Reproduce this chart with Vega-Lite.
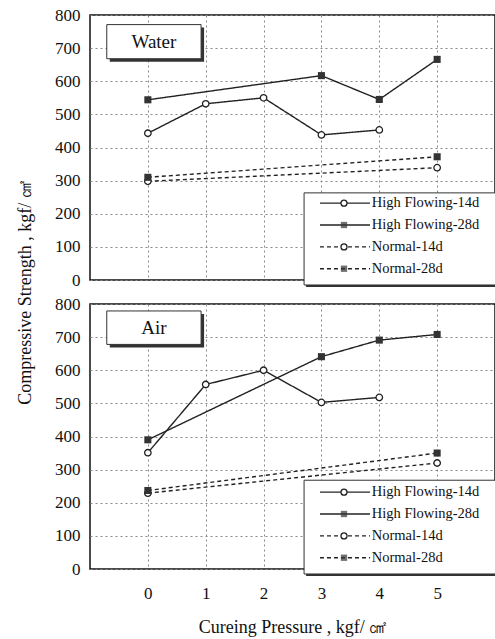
{
  "$schema": "https://vega.github.io/schema/vega-lite/v6.json",
  "background": "white",
  "padding": {"left": 15, "top": 5, "right": 0, "bottom": 0},
  "spacing": 24,
  "bounds": "flush",
  "config": {
    "font": "Liberation Serif",
    "view": {"stroke": "#111", "strokeWidth": 1.5},
    "axis": {
      "labelFont": "Liberation Serif",
      "titleFont": "Liberation Serif",
      "labelFontSize": 17,
      "titleFontSize": 18,
      "titleFontWeight": "normal",
      "labelColor": "#111",
      "titleColor": "#111",
      "grid": true,
      "gridDash": [2, 3],
      "gridColor": "#888",
      "gridWidth": 1,
      "ticks": false,
      "domain": false
    }
  },
  "datasets": {
    "pts": [
      {"panel": "Water", "series": "High Flowing-14d", "x": 0, "y": 443},
      {"panel": "Water", "series": "High Flowing-14d", "x": 1, "y": 532},
      {"panel": "Water", "series": "High Flowing-14d", "x": 2, "y": 550},
      {"panel": "Water", "series": "High Flowing-14d", "x": 3, "y": 438},
      {"panel": "Water", "series": "High Flowing-14d", "x": 4, "y": 453},
      {"panel": "Water", "series": "High Flowing-28d", "x": 0, "y": 544},
      {"panel": "Water", "series": "High Flowing-28d", "x": 3, "y": 617},
      {"panel": "Water", "series": "High Flowing-28d", "x": 4, "y": 545},
      {"panel": "Water", "series": "High Flowing-28d", "x": 5, "y": 666},
      {"panel": "Water", "series": "Normal-14d", "x": 0, "y": 298},
      {"panel": "Water", "series": "Normal-14d", "x": 5, "y": 339},
      {"panel": "Water", "series": "Normal-28d", "x": 0, "y": 310},
      {"panel": "Water", "series": "Normal-28d", "x": 5, "y": 372},
      {"panel": "Air", "series": "High Flowing-14d", "x": 0, "y": 351},
      {"panel": "Air", "series": "High Flowing-14d", "x": 1, "y": 557},
      {"panel": "Air", "series": "High Flowing-14d", "x": 2, "y": 600},
      {"panel": "Air", "series": "High Flowing-14d", "x": 3, "y": 503},
      {"panel": "Air", "series": "High Flowing-14d", "x": 4, "y": 518},
      {"panel": "Air", "series": "High Flowing-28d", "x": 0, "y": 390},
      {"panel": "Air", "series": "High Flowing-28d", "x": 3, "y": 641},
      {"panel": "Air", "series": "High Flowing-28d", "x": 4, "y": 691},
      {"panel": "Air", "series": "High Flowing-28d", "x": 5, "y": 708},
      {"panel": "Air", "series": "Normal-14d", "x": 0, "y": 229},
      {"panel": "Air", "series": "Normal-14d", "x": 5, "y": 320},
      {"panel": "Air", "series": "Normal-28d", "x": 0, "y": 237},
      {"panel": "Air", "series": "Normal-28d", "x": 5, "y": 350}
    ],
    "boxes": [
      {"panel": "Water", "x1": -0.71, "x2": 0.92, "y1": 668, "y2": 771, "tx": 0.105, "ty": 719},
      {"panel": "Air", "x1": -0.71, "x2": 0.92, "y1": 678, "y2": 779, "tx": 0.105, "ty": 728}
    ],
    "leg": [
      {"series": "High Flowing-14d", "ly": 232, "kind": "14d"},
      {"series": "High Flowing-28d", "ly": 166, "kind": "28d"},
      {"series": "Normal-14d", "ly": 100, "kind": "14d"},
      {"series": "Normal-28d", "ly": 34, "kind": "28d"}
    ]
  },
  "vconcat": [
    {
      "width": 405,
      "height": 265,
      "encoding": {
        "x": {"type": "quantitative", "scale": {"domain": [-1, 6], "nice": false}, "axis": {"values": [0, 1, 2, 3, 4, 5], "labels": false, "title": null}},
        "y": {"type": "quantitative", "scale": {"domain": [0, 800], "nice": false}, "axis": {"values": [0, 100, 200, 300, 400, 500, 600, 700, 800], "labelOverlap": false, "labelPadding": 10, "title": null}}
      },
      "layer": [
        {
          "data": {"name": "boxes"},
          "transform": [{"filter": {"field": "panel", "equal": "Water"}}],
          "mark": {"type": "rect", "fill": "#333", "xOffset": 3, "x2Offset": 3, "yOffset": 3, "y2Offset": 3},
          "encoding": {"x": {"field": "x1"}, "x2": {"field": "x2"}, "y": {"field": "y1"}, "y2": {"field": "y2"}}
        },
        {
          "data": {"name": "boxes"},
          "transform": [{"filter": {"field": "panel", "equal": "Water"}}],
          "mark": {"type": "rect", "fill": "white", "stroke": "#333", "strokeWidth": 1},
          "encoding": {"x": {"field": "x1"}, "x2": {"field": "x2"}, "y": {"field": "y1"}, "y2": {"field": "y2"}}
        },
        {
          "data": {"name": "boxes"},
          "transform": [{"filter": {"field": "panel", "equal": "Water"}}],
          "mark": {"type": "text", "font": "Liberation Serif", "fontSize": 19, "color": "#111"},
          "encoding": {"x": {"field": "tx"}, "y": {"field": "ty"}, "text": {"field": "panel"}}
        },
        {
          "data": {"name": "pts"},
          "transform": [{"filter": {"field": "panel", "equal": "Water"}}],
          "mark": {"type": "line", "color": "#222", "strokeWidth": 1.4},
          "encoding": {
            "x": {"field": "x"},
            "y": {"field": "y"},
            "strokeDash": {"field": "series", "type": "nominal", "scale": {"domain": ["High Flowing-14d", "High Flowing-28d", "Normal-14d", "Normal-28d"], "range": [[1, 0], [1, 0], [4, 3], [4, 3]]}, "legend": null},
            "order": {"field": "x"}
          }
        },
        {
          "data": {"name": "pts"},
          "transform": [{"filter": {"field": "panel", "equal": "Water"}}, {"filter": {"field": "series", "oneOf": ["High Flowing-14d", "Normal-14d"]}}],
          "mark": {"type": "point", "shape": "circle", "size": 42, "filled": false, "fill": "white", "fillOpacity": 1, "stroke": "#222", "strokeWidth": 1.3, "opacity": 1},
          "encoding": {"x": {"field": "x"}, "y": {"field": "y"}}
        },
        {
          "data": {"name": "pts"},
          "transform": [{"filter": {"field": "panel", "equal": "Water"}}, {"filter": {"field": "series", "oneOf": ["High Flowing-28d", "Normal-28d"]}}],
          "mark": {"type": "point", "shape": "square", "size": 50, "filled": true, "color": "#333", "opacity": 1},
          "encoding": {"x": {"field": "x"}, "y": {"field": "y"}}
        },
        {
          "data": {"values": [{}]},
          "mark": {"type": "rect", "fill": "#333", "yOffset": 2, "y2Offset": 2, "xOffset": 2, "x2Offset": 2},
          "encoding": {"x": {"datum": 2.7}, "x2": {"datum": 6.03}, "y": {"datum": 263}, "y2": {"datum": -15}}
        },
        {
          "data": {"values": [{}]},
          "mark": {"type": "rect", "fill": "white", "stroke": "#333", "strokeWidth": 1},
          "encoding": {"x": {"datum": 2.7}, "x2": {"datum": 6.03}, "y": {"datum": 263}, "y2": {"datum": -15}}
        },
        {
          "data": {"name": "leg"},
          "mark": {"type": "rule", "color": "#222", "strokeWidth": 1.3},
          "encoding": {
            "x": {"datum": 2.975}, "x2": {"datum": 3.84},
            "y": {"field": "ly"},
            "strokeDash": {"field": "series", "type": "nominal", "legend": null}
          }
        },
        {
          "data": {"name": "leg"},
          "transform": [{"filter": {"field": "kind", "equal": "14d"}}],
          "mark": {"type": "point", "shape": "circle", "size": 36, "filled": false, "fill": "white", "fillOpacity": 1, "stroke": "#222", "strokeWidth": 1.3},
          "encoding": {"x": {"datum": 3.39}, "y": {"field": "ly"}}
        },
        {
          "data": {"name": "leg"},
          "transform": [{"filter": {"field": "kind", "equal": "28d"}}],
          "mark": {"type": "point", "shape": "square", "size": 40, "filled": true, "color": "#333"},
          "encoding": {"x": {"datum": 3.39}, "y": {"field": "ly"}}
        },
        {
          "data": {"name": "leg"},
          "mark": {"type": "text", "align": "left", "baseline": "middle", "font": "Liberation Serif", "fontSize": 14.5, "color": "#111"},
          "encoding": {"x": {"datum": 3.87}, "y": {"field": "ly"}, "text": {"field": "series"}}
        }
      ]
    },
    {
      "width": 405,
      "height": 265,
      "encoding": {
        "x": {"type": "quantitative", "scale": {"domain": [-1, 6], "nice": false}, "axis": {"values": [0, 1, 2, 3, 4, 5], "format": "d", "labelPadding": 16, "title": "Cureing Pressure , kgf/ ㎠", "titlePadding": 17}},
        "y": {"type": "quantitative", "scale": {"domain": [0, 800], "nice": false}, "axis": {"values": [0, 100, 200, 300, 400, 500, 600, 700, 800], "labelOverlap": false, "labelPadding": 10, "title": "Compressive Strength , kgf/ ㎠", "titleY": -12, "titlePadding": 20}}
      },
      "layer": [
        {
          "data": {"name": "boxes"},
          "transform": [{"filter": {"field": "panel", "equal": "Air"}}],
          "mark": {"type": "rect", "fill": "#333", "xOffset": 3, "x2Offset": 3, "yOffset": 3, "y2Offset": 3},
          "encoding": {"x": {"field": "x1"}, "x2": {"field": "x2"}, "y": {"field": "y1"}, "y2": {"field": "y2"}}
        },
        {
          "data": {"name": "boxes"},
          "transform": [{"filter": {"field": "panel", "equal": "Air"}}],
          "mark": {"type": "rect", "fill": "white", "stroke": "#333", "strokeWidth": 1},
          "encoding": {"x": {"field": "x1"}, "x2": {"field": "x2"}, "y": {"field": "y1"}, "y2": {"field": "y2"}}
        },
        {
          "data": {"name": "boxes"},
          "transform": [{"filter": {"field": "panel", "equal": "Air"}}],
          "mark": {"type": "text", "font": "Liberation Serif", "fontSize": 19, "color": "#111"},
          "encoding": {"x": {"field": "tx"}, "y": {"field": "ty"}, "text": {"field": "panel"}}
        },
        {
          "data": {"name": "pts"},
          "transform": [{"filter": {"field": "panel", "equal": "Air"}}],
          "mark": {"type": "line", "color": "#222", "strokeWidth": 1.4},
          "encoding": {
            "x": {"field": "x"},
            "y": {"field": "y"},
            "strokeDash": {"field": "series", "type": "nominal", "scale": {"domain": ["High Flowing-14d", "High Flowing-28d", "Normal-14d", "Normal-28d"], "range": [[1, 0], [1, 0], [4, 3], [4, 3]]}, "legend": null},
            "order": {"field": "x"}
          }
        },
        {
          "data": {"name": "pts"},
          "transform": [{"filter": {"field": "panel", "equal": "Air"}}, {"filter": {"field": "series", "oneOf": ["High Flowing-14d", "Normal-14d"]}}],
          "mark": {"type": "point", "shape": "circle", "size": 42, "filled": false, "fill": "white", "fillOpacity": 1, "stroke": "#222", "strokeWidth": 1.3, "opacity": 1},
          "encoding": {"x": {"field": "x"}, "y": {"field": "y"}}
        },
        {
          "data": {"name": "pts"},
          "transform": [{"filter": {"field": "panel", "equal": "Air"}}, {"filter": {"field": "series", "oneOf": ["High Flowing-28d", "Normal-28d"]}}],
          "mark": {"type": "point", "shape": "square", "size": 50, "filled": true, "color": "#333", "opacity": 1},
          "encoding": {"x": {"field": "x"}, "y": {"field": "y"}}
        },
        {
          "data": {"values": [{}]},
          "mark": {"type": "rect", "fill": "#333", "yOffset": 2, "y2Offset": 2, "xOffset": 2, "x2Offset": 2},
          "encoding": {"x": {"datum": 2.7}, "x2": {"datum": 6.03}, "y": {"datum": 268}, "y2": {"datum": -15}}
        },
        {
          "data": {"values": [{}]},
          "mark": {"type": "rect", "fill": "white", "stroke": "#333", "strokeWidth": 1},
          "encoding": {"x": {"datum": 2.7}, "x2": {"datum": 6.03}, "y": {"datum": 268}, "y2": {"datum": -15}}
        },
        {
          "data": {"name": "leg"},
          "mark": {"type": "rule", "color": "#222", "strokeWidth": 1.3},
          "encoding": {
            "x": {"datum": 2.975}, "x2": {"datum": 3.84},
            "y": {"field": "ly"},
            "strokeDash": {"field": "series", "type": "nominal", "legend": null}
          }
        },
        {
          "data": {"name": "leg"},
          "transform": [{"filter": {"field": "kind", "equal": "14d"}}],
          "mark": {"type": "point", "shape": "circle", "size": 36, "filled": false, "fill": "white", "fillOpacity": 1, "stroke": "#222", "strokeWidth": 1.3},
          "encoding": {"x": {"datum": 3.39}, "y": {"field": "ly"}}
        },
        {
          "data": {"name": "leg"},
          "transform": [{"filter": {"field": "kind", "equal": "28d"}}],
          "mark": {"type": "point", "shape": "square", "size": 40, "filled": true, "color": "#333"},
          "encoding": {"x": {"datum": 3.39}, "y": {"field": "ly"}}
        },
        {
          "data": {"name": "leg"},
          "mark": {"type": "text", "align": "left", "baseline": "middle", "font": "Liberation Serif", "fontSize": 14.5, "color": "#111"},
          "encoding": {"x": {"datum": 3.87}, "y": {"field": "ly"}, "text": {"field": "series"}}
        }
      ]
    }
  ]
}
